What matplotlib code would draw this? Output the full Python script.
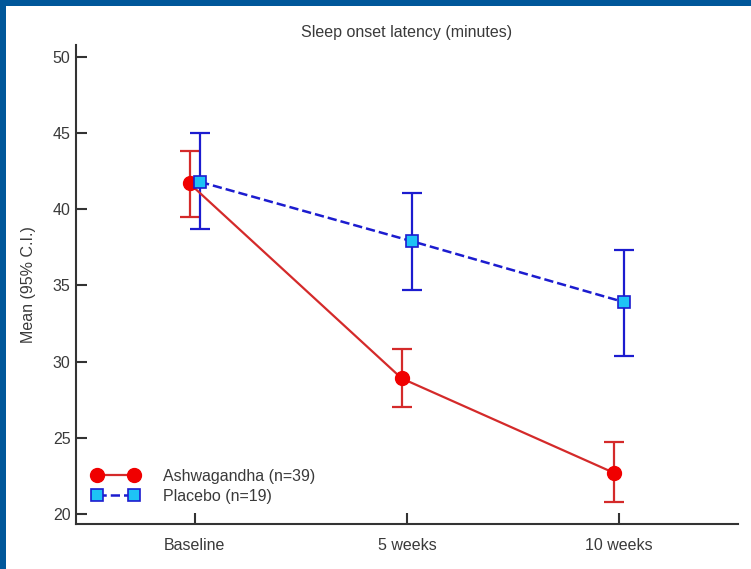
import matplotlib
matplotlib.use("Agg")
import matplotlib.pyplot as plt
from matplotlib.patches import Rectangle

plt.rcParams['font.family'] = ['Liberation Sans', 'DejaVu Sans']

timepoints = ["Baseline", "5 weeks", "10 weeks"]
x_pos = [0, 1, 2]

ashwa_mean = [41.7, 28.9, 22.7]
ashwa_lo = [39.5, 27.0, 20.8]
ashwa_hi = [43.8, 30.8, 24.7]

placebo_mean = [41.8, 37.9, 33.9]
placebo_lo = [38.7, 34.7, 30.4]
placebo_hi = [45.0, 41.1, 37.3]

yticks = [20, 25, 30, 35, 40, 45, 50]

fig = plt.figure(figsize=(7.51, 5.69), dpi=100, facecolor='white')
# dark blue frame on the top and left edges
border = '#00579a'
fig.patches.append(Rectangle((0, 1 - 6/569), 1, 6/569, transform=fig.transFigure,
                             facecolor=border, edgecolor='none', zorder=10))
fig.patches.append(Rectangle((0, 0), 6/751, 1, transform=fig.transFigure,
                             facecolor=border, edgecolor='none', zorder=10))
ax = fig.add_axes([76/751, 1 - 524/569, (738 - 76)/751, (524 - 45)/569])

off = 0.025
xa = [x - off for x in x_pos]
xp = [x + off for x in x_pos]

ea = [[m - l for m, l in zip(ashwa_mean, ashwa_lo)], [h - m for m, h in zip(ashwa_mean, ashwa_hi)]]
ep = [[m - l for m, l in zip(placebo_mean, placebo_lo)], [h - m for m, h in zip(placebo_mean, placebo_hi)]]

red_line = '#d42a2a'
blue_line = '#1c1ccf'
txt = '#3a3a3a'

ax.errorbar(xa, ashwa_mean, yerr=ea, fmt='none', ecolor=red_line, elinewidth=1.6,
            capsize=7, capthick=1.6, zorder=2)
ax.errorbar(xp, placebo_mean, yerr=ep, fmt='none', ecolor=blue_line, elinewidth=1.6,
            capsize=7.5, capthick=1.6, zorder=3)
ax.plot(xa, ashwa_mean, '-', color=red_line, lw=1.6, marker='o', markersize=10,
        markerfacecolor='#f00000', markeredgecolor='#f00000', zorder=4,
        label='Ashwagandha (n=39)')
ax.plot(xp, placebo_mean, '--', color=blue_line, lw=1.8, marker='s', markersize=9,
        markerfacecolor='#1ec3f5', markeredgecolor=blue_line, markeredgewidth=1.2,
        zorder=5, label='Placebo (n=19)')

ax.set_xlim(-0.56, 2.56)
ax.set_ylim(19.34, 50.79)
ax.set_xticks(x_pos)
ax.set_xticklabels(timepoints)
ax.set_yticks(yticks)
ax.tick_params(direction='in', length=8, width=1.5, labelsize=11.5, colors='#333333',
               labelcolor=txt)
ax.tick_params(axis='x', pad=10)
ax.tick_params(axis='y', pad=4)
for s in ['top', 'right']:
    ax.spines[s].set_visible(False)
for s in ['left', 'bottom']:
    ax.spines[s].set_linewidth(1.5)
    ax.spines[s].set_color('#333333')

ax.set_ylabel('Mean (95% C.I.)', fontsize=11.5, color=txt, labelpad=12)
ax.set_title('Sleep onset latency (minutes)', fontsize=11.5, color=txt, pad=6)

ax.legend(loc='lower left', bbox_to_anchor=(0.003, 0.012), frameon=False, numpoints=2,
          handlelength=2.9, fontsize=11.5, labelspacing=0.3, handletextpad=1.5,
          labelcolor=txt)

fig.savefig('out.png', dpi=100, facecolor=fig.get_facecolor())
